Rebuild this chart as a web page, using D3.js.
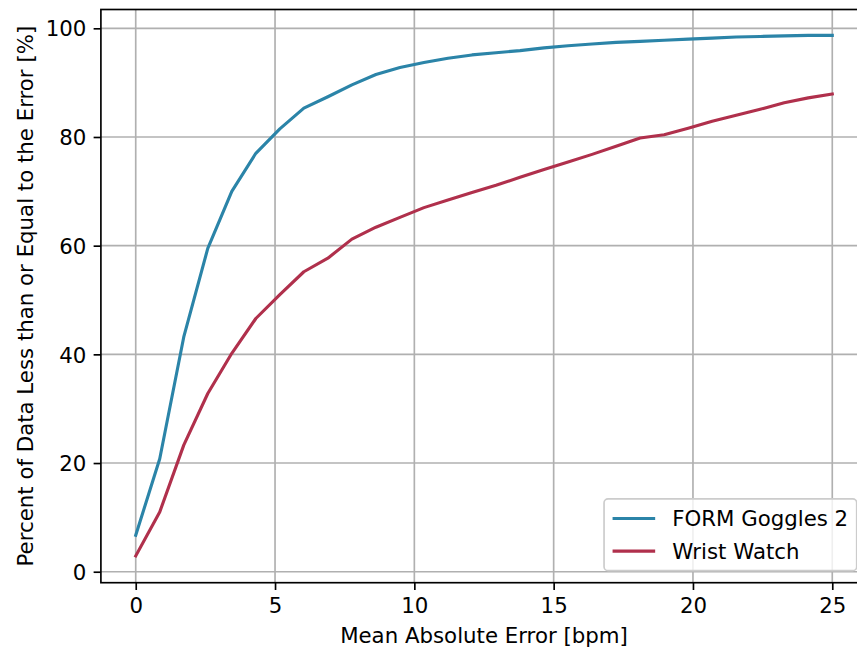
<!DOCTYPE html>
<html>
<head>
<meta charset="utf-8">
<script src="https://cdn.jsdelivr.net/npm/d3@7"></script>
<style>
  html, body { margin: 0; padding: 0; background: #fff; }
  svg { display: block; font-family: "DejaVu Sans", sans-serif; }
</style>
</head>
<body>
<div id="chart"></div>
<script>
// Mean absolute error thresholds (bpm), 30 evenly spaced steps from 0 to 25
const errorSteps = d3.range(30).map(i => i * 25 / 29)

// cumulative share of samples at or below each threshold [%]
const gogglesPercent = [6.7, 20.8, 43.2, 59.5, 70.0, 77.0, 81.5, 85.3, 87.4, 89.6,
    91.5, 92.8, 93.7, 94.5, 95.1, 95.5, 95.9, 96.4, 96.8, 97.1,
    97.4, 97.6, 97.8, 98.0, 98.2, 98.4, 98.5, 98.6, 98.7, 98.7]
const watchPercent = [2.9, 11.0, 23.3, 32.8, 40.2, 46.6, 51.0, 55.2, 57.7, 61.2,
    63.4, 65.2, 67.0, 68.4, 69.8, 71.1, 72.6, 74.0, 75.4, 76.8,
    78.3, 79.8, 80.4, 81.6, 82.9, 84.0, 85.1, 86.3, 87.2, 87.9]

const seriesNames = ["FORM Goggles 2", "Wrist Watch"]
const seriesColors = ["#2b84a8", "#b0304c"]

const xTicks = [0, 5, 10, 15, 20, 25]
const yTicks = [0, 20, 40, 60, 80, 100]

const xLabel = "Mean Absolute Error [bpm]"
const yLabel = "Percent of Data Less than or Equal to the Error [%]"

const dimensions = {width: 857, height: 650, left: 100.9, right: 867.1, top: 9.5, bottom: 582.7}
const pt = 150 / 72 // matplotlib points at 150 dpi
const fontSize = 21.3

const svg = d3.select("#chart").append("svg")
    .attr("width", dimensions.width)
    .attr("height", dimensions.height)

const x = d3.scaleLinear().domain([-1.25, 26.25]).range([dimensions.left, dimensions.right])
const y = d3.scaleLinear().domain([-2.02, 103.46]).range([dimensions.bottom, dimensions.top])

svg.append("defs").append("clipPath")
    .attr("id", "plot-clip")
    .append("rect")
    .attr("x", dimensions.left)
    .attr("y", dimensions.top)
    .attr("width", dimensions.right - dimensions.left)
    .attr("height", dimensions.bottom - dimensions.top)

// grid
const grid = svg.append("g").attr("class", "grid")
    .attr("stroke", "#b0b0b0")
    .attr("stroke-width", 0.8 * pt)
grid.selectAll("line.vx")
    .data(xTicks)
    .join("line")
    .attr("class", "vx")
    .attr("x1", d => x(d)).attr("x2", d => x(d))
    .attr("y1", dimensions.top).attr("y2", dimensions.bottom)
grid.selectAll("line.hy")
    .data(yTicks)
    .join("line")
    .attr("class", "hy")
    .attr("x1", dimensions.left).attr("x2", dimensions.right)
    .attr("y1", d => y(d)).attr("y2", d => y(d))

// lines
const lineGenerator = values => d3.line()
    .x((d, i) => x(errorSteps[i]))
    .y(d => y(d))(values)

const plot = svg.append("g").attr("clip-path", "url(#plot-clip)")
;[gogglesPercent, watchPercent].forEach((values, i) => {
    plot.append("path")
        .attr("fill", "none")
        .attr("stroke", seriesColors[i])
        .attr("stroke-width", 1.5 * pt)
        .attr("stroke-linejoin", "round")
        .attr("stroke-linecap", "square")
        .attr("d", lineGenerator(values))
})

// axes
const xAxis = svg.append("g")
    .attr("transform", `translate(0,${dimensions.bottom})`)
    .call(d3.axisBottom(x).tickValues(xTicks).tickSize(3.5 * pt).tickPadding(3.5 * pt).tickSizeOuter(0))
const yAxis = svg.append("g")
    .attr("transform", `translate(${dimensions.left},0)`)
    .call(d3.axisLeft(y).tickValues(yTicks).tickSize(3.5 * pt).tickPadding(3.5 * pt).tickSizeOuter(0))

;[xAxis, yAxis].forEach(axis => {
    axis.select(".domain").remove()
    axis.selectAll(".tick line").attr("stroke", "#000").attr("stroke-width", 0.8 * pt)
    axis.selectAll(".tick text")
        .attr("fill", "#000")
        .style("font-size", `${fontSize}px`)
        .style("font-family", "DejaVu Sans")
})
xAxis.selectAll(".tick text").attr("dy", "0.74em")
yAxis.selectAll(".tick text").attr("dy", "0.36em")

// spines
svg.append("rect")
    .attr("x", dimensions.left)
    .attr("y", dimensions.top)
    .attr("width", dimensions.right - dimensions.left)
    .attr("height", dimensions.bottom - dimensions.top)
    .attr("fill", "none")
    .attr("stroke", "#000")
    .attr("stroke-width", 0.8 * pt)

// axis labels
svg.append("text")
    .attr("x", (dimensions.left + dimensions.right) / 2)
    .attr("y", 643)
    .attr("text-anchor", "middle")
    .style("font-size", `${fontSize}px`)
    .text(xLabel)

svg.append("text")
    .attr("transform", `translate(33,${(dimensions.top + dimensions.bottom) / 2}) rotate(-90)`)
    .attr("text-anchor", "middle")
    .style("font-size", `${fontSize}px`)
    .text(yLabel)

// legend, lower right
const legendPad = 0.4 * fontSize
const handleLength = 2 * fontSize
const handlePad = 0.8 * fontSize
const rowHeight = 32.6

const legend = svg.append("g").attr("class", "legend")
const legendBox = legend.append("rect")
const items = legend.selectAll("g.item")
    .data(seriesNames)
    .join("g")
    .attr("class", "item")
items.append("line")
    .attr("x1", legendPad).attr("x2", legendPad + handleLength)
    .attr("y1", (d, i) => legendPad + 11.1 + i * rowHeight)
    .attr("y2", (d, i) => legendPad + 11.1 + i * rowHeight)
    .attr("stroke", (d, i) => seriesColors[i])
    .attr("stroke-width", 1.5 * pt)
const labels = items.append("text")
    .attr("x", legendPad + handleLength + handlePad)
    .attr("y", (d, i) => legendPad + 11.1 + i * rowHeight)
    .attr("dy", "0.36em")
    .style("font-size", `${fontSize}px`)
    .attr("fill", "#000")
    .text(d => d)

const textWidth = d3.max(labels.nodes(), n => n.getComputedTextLength())
const legendWidth = legendPad * 2 + handleLength + handlePad + textWidth
const legendHeight = legendPad * 2 + 22.2 + rowHeight
legendBox
    .attr("width", legendWidth)
    .attr("height", legendHeight)
    .attr("rx", 4).attr("ry", 4)
    .attr("fill", "white")
    .attr("fill-opacity", 0.8)
    .attr("stroke", "#cccccc")
    .attr("stroke-width", 0.8 * pt)
legend.attr("transform", `translate(${dimensions.right - 10.4 - legendWidth},${dimensions.bottom - 12 - legendHeight})`)
</script>
</body>
</html>
